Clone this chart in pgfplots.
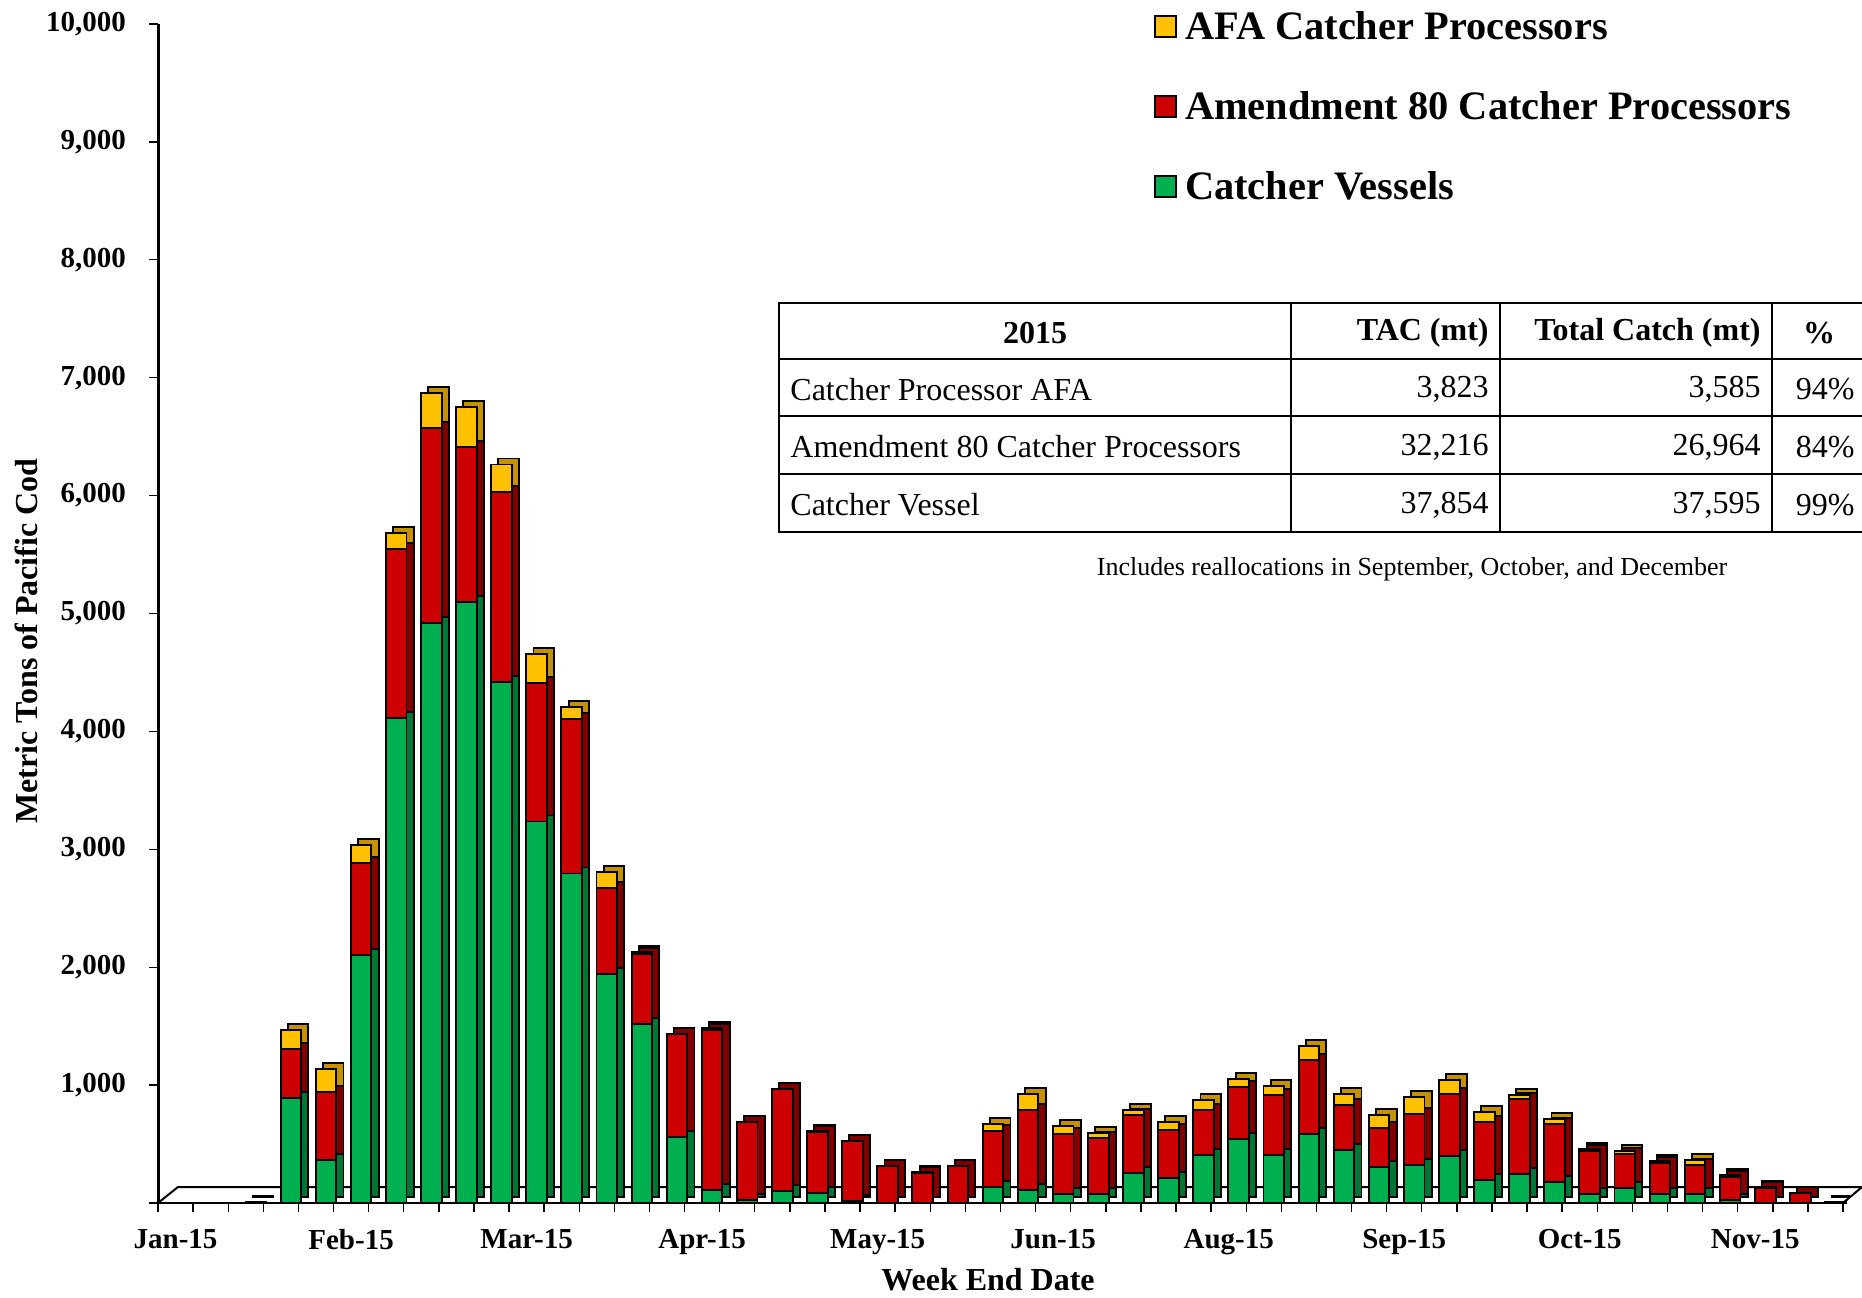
\documentclass[border=0pt]{standalone}
\usepackage{fontspec}
\setmainfont{Liberation Serif}
\usepackage{pgfplots}
\usepackage{pgfplotstable}
\pgfplotsset{compat=1.18}

\definecolor{cvG}{RGB}{0,176,80}
\definecolor{cvGd}{RGB}{0,118,52}
\definecolor{a8R}{RGB}{204,0,0}
\definecolor{a8Rd}{RGB}{128,0,0}
\definecolor{afaY}{RGB}{255,192,0}
\definecolor{afaYd}{RGB}{196,146,0}

\pgfplotstableread{
k cv a80 afa
2 0 0 8
3 890 420 155
4 364 577 195
5 2100 786 150
6 4114 1431 137
7 4923 1654 296
8 5100 1309 341
9 4418 1614 232
10 3236 1173 250
11 2795 1310 100
12 1941 732 132
13 1521 593 15
14 560 870 0
15 107 1357 20
16 28 659 0
17 99 870 0
18 88 514 10
19 17 509 0
20 0 314 0
21 0 254 10
22 0 311 0
23 136 472 59
24 107 684 130
25 79 509 62
26 79 475 42
27 254 489 48
28 215 407 65
29 404 387 80
30 545 439 70
31 404 509 76
32 588 627 113
33 452 376 99
34 305 334 104
35 319 438 142
36 396 531 119
37 192 495 85
38 243 642 28
39 178 495 42
40 79 362 20
41 130 283 28
42 80 259 17
43 73 246 48
44 23 197 15
45 0 127 8
46 0 85 0
47 0 10 0
}\data

\pgfplotsset{
  base/.style={
    scale only axis, width=842.5pt, height=589.5pt, anchor=south west,
    xmin=-0.5, xmax=47.5, ymin=0, ymax=10000, enlargelimits=false,
    ybar stacked, bar shift=5pt, bar width=10.3pt,
  },
  sqlegend/.style={legend image code/.code={\draw[##1,draw=black,line width=0.9pt] (0pt,-5.25pt) rectangle (10.5pt,5.25pt);}},
}

\begin{document}
\begin{tikzpicture}
\path[use as bounding box] (0,0) rectangle (931pt,648.5pt);
% floor of the 3-D plot
\draw[line width=1pt] (79pt,47pt) -- (89pt,55pt) -- (935pt,55pt);
\draw[line width=1pt] (921.5pt,47pt) -- (931pt,55pt);

% side/top faces (back of the 3-D columns)
\begin{axis}[base, at={(82.6pt,50pt)}, hide axis]
\addplot[fill=cvGd, draw=black, line width=0.95pt] table[x=k,y=cv] {\data};
\addplot[fill=a8Rd, draw=black, line width=0.95pt] table[x=k,y=a80] {\data};
\addplot[fill=afaYd, draw=black, line width=0.95pt] table[x=k,y=afa] {\data};
\end{axis}

% front faces, axes, labels
\begin{axis}[base, at={(79pt,47pt)},
  axis x line*=bottom, axis y line*=left,
  x axis line style={line width=1pt,-},
  y axis line style={line width=1.5pt,-},
  tick align=outside,
  xtick={-0.5,0.5,...,47.5}, xticklabels={},
  major tick length=4.5pt,
  tick style={line width=0.7pt, black},
  extra x ticks={0,5,10,15,20,25,30,35,40,45},
  extra x tick labels={Jan-15,Feb-15,Mar-15,Apr-15,May-15,Jun-15,Aug-15,Sep-15,Oct-15,Nov-15},
  extra x tick style={major tick length=0pt, tick style={draw=none}},
  xticklabel style={font=\fontsize{14.5}{17}\selectfont\bfseries, yshift=-9.8pt},
  ytick={0,1000,...,10000},
  yticklabels={{},{1,000},{2,000},{3,000},{4,000},{5,000},{6,000},{7,000},{8,000},{9,000},{10,000}},
  yticklabel style={font=\fontsize{14.5}{17}\selectfont\bfseries, xshift=-8pt, inner ysep=0.5pt},
  xlabel={Week End Date},
  ylabel={Metric Tons of Pacific Cod},
  every axis x label/.style={at={(axis description cs:0.4926,-0.0653)}, anchor=center, font=\fontsize{16}{19}\selectfont\bfseries},
  every axis y label/.style={at={(axis description cs:-0.0783,0.4767)}, rotate=90, anchor=center, font=\fontsize{16}{19}\selectfont\bfseries},
  legend style={at={(0.5875,1.018)}, anchor=north west, draw=none, fill=none,
    font=\fontsize{20.2}{24}\selectfont\bfseries, row sep=20.5pt,
    /tikz/every odd column/.style={column sep=2pt}},
  legend cell align=left,
  reverse legend,
  clip=false,
]
\addplot[fill=cvG, draw=black, line width=0.95pt, sqlegend] table[x=k,y=cv] {\data};
\addplot[fill=a8R, draw=black, line width=0.95pt, sqlegend] table[x=k,y=a80] {\data};
\addplot[fill=afaY, draw=black, line width=0.95pt, sqlegend] table[x=k,y=afa] {\data};
\legend{Catcher Vessels, Amendment 80 Catcher Processors, AFA Catcher Processors}
\end{axis}

% summary table
\fill[white] (389.5pt,382.5pt) rectangle (935pt,497pt);
\draw[line width=1.2pt] (389.5pt,382.5pt) rectangle (940pt,497pt);
\draw[line width=1pt] (389.5pt,469pt) -- (935pt,469pt);
\draw[line width=1pt] (389.5pt,440.5pt) -- (935pt,440.5pt);
\draw[line width=1pt] (389.5pt,411.5pt) -- (935pt,411.5pt);
\foreach \xx in {645.5,750,886}{\draw[line width=1pt] (\xx pt,382.5pt) -- (\xx pt,497pt);}
\begin{scope}[every node/.style={font=\fontsize{16}{19}\selectfont, inner sep=0pt}]
\node[font=\fontsize{16}{19}\selectfont\bfseries] at (517.5pt,482pt) {2015};
\node[font=\fontsize{16}{19}\selectfont\bfseries, anchor=east] at (744.5pt,482pt) {TAC (mt)};
\node[font=\fontsize{16}{19}\selectfont\bfseries, anchor=east] at (880.5pt,482pt) {Total Catch (mt)};
\node[font=\fontsize{16}{19}\selectfont\bfseries] at (909.5pt,482pt) {\%};
\node[anchor=west] at (395pt,453.75pt) {Catcher Processor AFA};
\node[anchor=east] at (744.5pt,453.75pt) {3,823};
\node[anchor=east] at (880.5pt,453.75pt) {3,585};
\node[anchor=east] at (927.5pt,453.75pt) {94\%};
\node[anchor=west] at (395pt,425pt) {Amendment 80 Catcher Processors};
\node[anchor=east] at (744.5pt,425pt) {32,216};
\node[anchor=east] at (880.5pt,425pt) {26,964};
\node[anchor=east] at (927.5pt,425pt) {84\%};
\node[anchor=west] at (395pt,396pt) {Catcher Vessel};
\node[anchor=east] at (744.5pt,396pt) {37,854};
\node[anchor=east] at (880.5pt,396pt) {37,595};
\node[anchor=east] at (927.5pt,396pt) {99\%};
\node[font=\fontsize{13}{16}\selectfont] at (706pt,364pt) {Includes reallocations in September, October, and December};
\end{scope}
\end{tikzpicture}
\end{document}
